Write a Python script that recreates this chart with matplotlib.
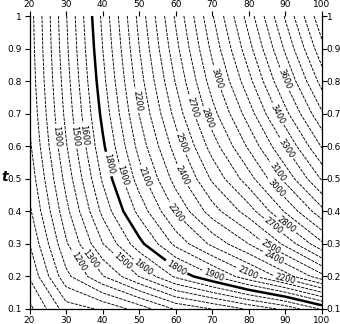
import matplotlib
matplotlib.use("Agg")
import matplotlib.pyplot as plt
import matplotlib.transforms as mtransforms
import numpy as np

# grid of the surface
x_vals = [20, 30, 40, 50, 60, 70, 80, 90, 100]
t_vals = [0.1, 0.2, 0.3, 0.4, 0.5, 0.6, 0.7, 0.8, 0.9, 1.0]
row_t01 = [570, 850, 914, 1041, 1212, 1302, 1415, 1526, 1715]
row_t02 = [710, 1070, 1291, 1503, 1718, 1886, 2069, 2251, 2467]
row_t03 = [800, 1185, 1496, 1765, 2029, 2225, 2401, 2627, 2880]
row_t04 = [880, 1268, 1626, 1933, 2211, 2452, 2652, 2913, 3169]
row_t05 = [935, 1335, 1714, 2050, 2343, 2618, 2858, 3130, 3413]
row_t06 = [980, 1390, 1779, 2137, 2445, 2748, 3020, 3305, 3610]
row_t07 = [1010, 1428, 1829, 2203, 2536, 2861, 3152, 3471, 3787]
row_t08 = [1030, 1455, 1868, 2255, 2608, 2952, 3269, 3606, 3941]
row_t09 = [1042, 1477, 1899, 2298, 2668, 3027, 3366, 3719, 4070]
row_t10 = [1050, 1492, 1925, 2333, 2717, 3090, 3448, 3814, 4180]

plain_levels = [500, 600, 700, 800, 900, 1000, 1100, 1400, 1700, 2000, 2300,
                2600, 2900, 3200, 3500, 3700, 3800, 3900, 4000, 4100, 4200]
labeled_levels = [1200, 1300, 1500, 1600, 1900, 2100, 2200, 2400, 2500, 2700,
                  2800, 3000, 3100, 3300, 3400, 3600]
bold_levels = [1800]
thin_label_pos = [(27.0, 0.63), (32.2, 0.63), (34.9, 0.635), (45.6, 0.51),
                  (52.2, 0.51), (49.4, 0.74), (61.7, 0.51), (61.7, 0.61),
                  (64.7, 0.72), (68.8, 0.687), (71.6, 0.81), (60.3, 0.40),
                  (90.7, 0.81), (88.0, 0.70), (90.4, 0.595), (87.7, 0.52),
                  (87.7, 0.475), (90.4, 0.36), (86.6, 0.353), (85.8, 0.29),
                  (86.6, 0.255), (89.9, 0.193), (79.8, 0.209), (70.2, 0.20),
                  (50.8, 0.224), (44.5, 0.236), (35.7, 0.245), (31.9, 0.236)]
bold_label_pos = [(41.5, 0.545), (59.8, 0.22)]

x_ticks = [20, 30, 40, 50, 60, 70, 80, 90, 100]
t_ticks = [0.1, 0.2, 0.3, 0.4, 0.5, 0.6, 0.7, 0.8, 0.9, 1.0]
t_tick_labels = ["0.1", "0.2", "0.3", "0.4", "0.5", "0.6", "0.7", "0.8", "0.9", "1"]

Z = np.array([row_t01, row_t02, row_t03, row_t04, row_t05,
              row_t06, row_t07, row_t08, row_t09, row_t10], dtype=float)
X, T = np.meshgrid(x_vals, t_vals)

fig = plt.figure(figsize=(3.4, 3.24), dpi=100)
ax = fig.add_axes([29.5 / 340, 15 / 324, 292.5 / 340, 293 / 324])

thin_style = dict(colors="k", linewidths=0.65, linestyles=[(0, (3.5, 1.2))])
ax.contour(X, T, Z, levels=plain_levels, **thin_style)
cs = ax.contour(X, T, Z, levels=labeled_levels, **thin_style)
cb = ax.contour(X, T, Z, levels=bold_levels, colors="k", linewidths=1.8,
                linestyles="solid")

ax.clabel(cs, manual=thin_label_pos, inline=True,
          fontsize=6, fmt="%d", inline_spacing=2)
ax.clabel(cb, manual=bold_label_pos, inline=True,
          fontsize=6, fmt="%d", inline_spacing=2)

ax.set_xlim(20, 100)
ax.set_ylim(0.1, 1.0)
ax.set_xticks(x_ticks)
ax.set_yticks(t_ticks)
ax.set_yticklabels(t_tick_labels)
ax.tick_params(direction="out", length=3.5, width=0.8, labelsize=6.5, pad=1.2,
               top=True, labeltop=True, right=True, labelright=True)
ax.spines["top"].set_visible(False)
for s in ("left", "right", "bottom"):
    ax.spines[s].set_linewidth(0.9)

# left tick labels sit a little further from the axis, right ones a bit closer
shift_l = mtransforms.ScaledTranslation(-1.5 / 100, 0, fig.dpi_scale_trans)
shift_r = mtransforms.ScaledTranslation(-2.0 / 100, 0, fig.dpi_scale_trans)
for tk in ax.yaxis.get_major_ticks():
    tk.label1.set_transform(tk.label1.get_transform() + shift_l)
    tk.label2.set_transform(tk.label2.get_transform() + shift_r)

fig.text(4.5 / 340, 1 - 177 / 324, "t", fontsize=10, fontstyle="italic",
         fontweight="bold", ha="center", va="center")

fig.savefig("out.png", dpi=100)
